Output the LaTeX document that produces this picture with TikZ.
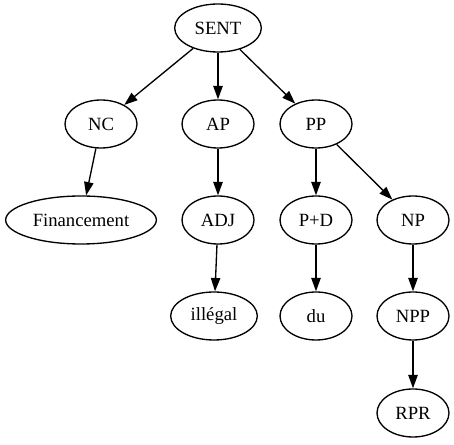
\documentclass[tikz,border=0pt]{standalone}
\usepackage{fontspec}
\setmainfont{Liberation Serif}
\usetikzlibrary{shapes.geometric,arrows.meta}

\tikzset{
  cat/.style={draw, ellipse, line width=1pt, inner sep=0pt,
    minimum width=54pt, minimum height=36pt, font=\fontsize{14}{16}\selectfont},
  edge/.style={line width=1pt, -{Triangle[length=10pt,width=7pt]}}
}

\begin{document}
\begin{tikzpicture}[x=0.75pt, y=-0.75pt]
\useasboundingbox (0,0) rectangle (454,445);

%% nodes
\node[cat, minimum width=65pt]  (sent) at (218,28)  {SENT};
\node[cat]                      (nc)   at (101,124) {NC};
\node[cat]                      (ap)   at (218,124) {AP};
\node[cat]                      (pp)   at (316,124) {PP};
\node[cat, minimum width=113pt] (fin)  at (81,220)  {Financement};
\node[cat]                      (adj)  at (218,220) {ADJ};
\node[cat]                      (pd)   at (316,220) {P+D};
\node[cat]                      (np)   at (413,220) {NP};
\node[cat, minimum width=65pt]  (ill)  at (214,316) {illégal};
\node[cat]                      (du)   at (316,316) {du};
\node[cat]                      (npp)  at (413,316) {NPP};
\node[cat]                      (rpr)  at (413,413) {RPR};

%% edges
\draw[edge] (sent) -- (nc);
\draw[edge] (sent) -- (ap);
\draw[edge] (sent) -- (pp);
\draw[edge] (nc) -- (fin);
\draw[edge] (ap) -- (adj);
\draw[edge] (adj) -- (ill);
\draw[edge] (pp) -- (pd);
\draw[edge] (pp) -- (np);
\draw[edge] (pd) -- (du);
\draw[edge] (np) -- (npp);
\draw[edge] (npp) -- (rpr);
\end{tikzpicture}
\end{document}
